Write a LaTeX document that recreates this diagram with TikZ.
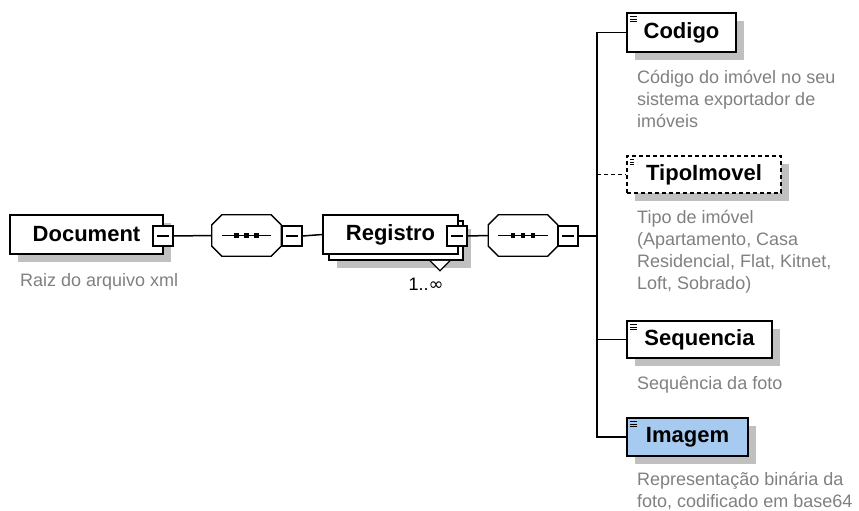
\documentclass[tikz,border=0pt]{standalone}
\usepackage{fontspec}
\setmainfont{Liberation Sans}
\newfontfamily\djv{DejaVu Sans}
\usetikzlibrary{shadows,calc}
\definecolor{descgray}{RGB}{128,128,128}
\definecolor{shadgray}{RGB}{192,192,192}
\definecolor{selblue}{RGB}{166,202,240}
\newcommand\octapath[1]{($(#1.north west)+(10,0)$) -- ($(#1.north east)+(-10,0)$) -- ($(#1.north east)+(0,10)$) -- ($(#1.south east)+(0,-10)$) -- ($(#1.south east)+(-10,0)$) -- ($(#1.south west)+(10,0)$) -- ($(#1.south west)+(0,-10)$) -- ($(#1.north west)+(0,10)$) -- cycle}
\begin{document}
\begin{tikzpicture}[x=1pt,y=-1pt,
  shad/.style={drop shadow={shadow xshift=8pt,shadow yshift=-8pt,fill=shadgray,opacity=1}},
  icon/.style={path picture={
     \draw[line width=0.9pt] ([shift={(3pt,-3.5pt)}]path picture bounding box.north west) -- ++(7pt,0);
     \draw[line width=0.9pt] ([shift={(3pt,-6pt)}]path picture bounding box.north west) -- ++(7pt,0);
     \draw[line width=0.9pt] ([shift={(3pt,-8.5pt)}]path picture bounding box.north west) -- ++(7pt,0);}},
  box/.style={draw, line width=1.5pt, fill=white, inner sep=0, shad,
     font=\fontsize{22}{22}\selectfont\bfseries},
  elem/.style={box, icon},
  compbox/.style={rectangle, inner sep=0},
  octline/.style={line width=1.3pt, fill=white},
  octshad/.style={fill=shadgray, shift={(8pt,-8pt)}},
  minusbox/.style={draw, line width=1.3pt, fill=white, minimum size=20pt, inner sep=0,
     path picture={\draw[line width=1.3pt] ([xshift=4pt]path picture bounding box.west) -- ([xshift=-4pt]path picture bounding box.east);}},
  conn/.style={line width=1.5pt},
  desc/.style={anchor=base west, inner sep=0, align=left, text=descgray,
     font=\fontsize{18}{22}\selectfont},
  dot/.style={fill=black, minimum size=4.5pt, inner sep=0}
]
\useasboundingbox (0,0) rectangle (859,511);

% Document
\node[box, minimum width=153pt, minimum height=39pt] (doc) at (86.5,234.5) {Document};
\node[minusbox] (docm) at (163,236) {};
\node[desc] (docd) at (20,286) {Raiz do arquivo xml};

% compositor 1
\node[compbox, minimum width=69pt, minimum height=41pt] (c1) at (246.5,235.5) {};
\path[octshad] \octapath{c1};
\draw[octline] \octapath{c1};
\node[minusbox] (c1m) at (292,236) {};
\draw[line width=1.5pt] ($(c1.west)+(10,0)$) coordinate (c1a) -- ($(c1.east)+(-10,0)$) coordinate (c1b);
\node[dot] (c1d1) at ($(c1)+(-10,0)$) {};
\node[dot] (c1d2) at (c1) {};
\node[dot] (c1d3) at ($(c1)+(10,0)$) {};

% Registro
\node[box, minimum width=134pt, minimum height=39pt] (regb) at (396,240.5) {};
\draw[line width=1.3pt, fill=white] ($(regb.south)+(34,0)$) coordinate (tri1) -- ++(10,10) coordinate (tri2) -- ++(10,-10) coordinate (tri3);
\node[draw, line width=1.5pt, fill=white, inner sep=0, font=\fontsize{22}{22}\selectfont\bfseries,
  minimum width=135pt, minimum height=39pt] (reg) at (390.5,234.5) {Registro};
\node[minusbox] (regm) at (457,236) {};
\node[anchor=base, inner sep=0, font=\fontsize{18}{18}\selectfont] (card) at (426,290) {1..{\djv ∞}};

% compositor 2
\node[compbox, minimum width=69pt, minimum height=41pt] (c2) at (523,235.5) {};
\path[octshad] \octapath{c2};
\draw[octline] \octapath{c2};
\node[minusbox] (c2m) at (568,236) {};
\draw[line width=1.5pt] ($(c2.west)+(10,0)$) coordinate (c2a) -- ($(c2.east)+(-10,0)$) coordinate (c2b);
\node[dot] (c2d1) at ($(c2)+(-10,0)$) {};
\node[dot] (c2d2) at (c2) {};
\node[dot] (c2d3) at ($(c2)+(10,0)$) {};

% children
\node[elem, minimum width=109pt, minimum height=39pt] (cod) at (681.5,32.5) {Codigo};
\node[desc] (codd) at (637,127) {Código do imóvel no seu\\sistema exportador de\\imóveis};

\node[elem, dash pattern=on 4pt off 3pt, minimum width=154pt, minimum height=37pt] (tip) at (704,174.5) {TipoImovel};
\node[desc] (tipd) at (637,289) {Tipo de imóvel\\(Apartamento, Casa\\Residencial, Flat, Kitnet,\\Loft, Sobrado)};

\node[elem, minimum width=145pt, minimum height=37pt] (seq) at (699.5,339.5) {Sequencia};
\node[desc] (seqd) at (637,389) {Sequência da foto};

\node[elem, fill=selblue, minimum width=121pt, minimum height=38pt] (img) at (687.5,437) {Imagem};
\node[desc] (imgd) at (637,507) {Representação binária da\\foto, codificado em base64};

% connectors
\coordinate (trunk) at (597,236);
\draw[conn] (docm.east) -- (c1.west);
\draw[conn] (c1m.east) -- (reg.west);
\draw[conn] (regm.east) -- (c2.west);
\draw[conn] (c2m.east) -- (trunk);
\draw[conn] (cod.west) -- (cod.west -| trunk) -- (img.west -| trunk) -- (img.west);
\draw[conn, dash pattern=on 4pt off 3pt] (tip.west -| trunk) -- (tip.west);
\draw[conn] (seq.west -| trunk) -- (seq.west);
\end{tikzpicture}
\end{document}
